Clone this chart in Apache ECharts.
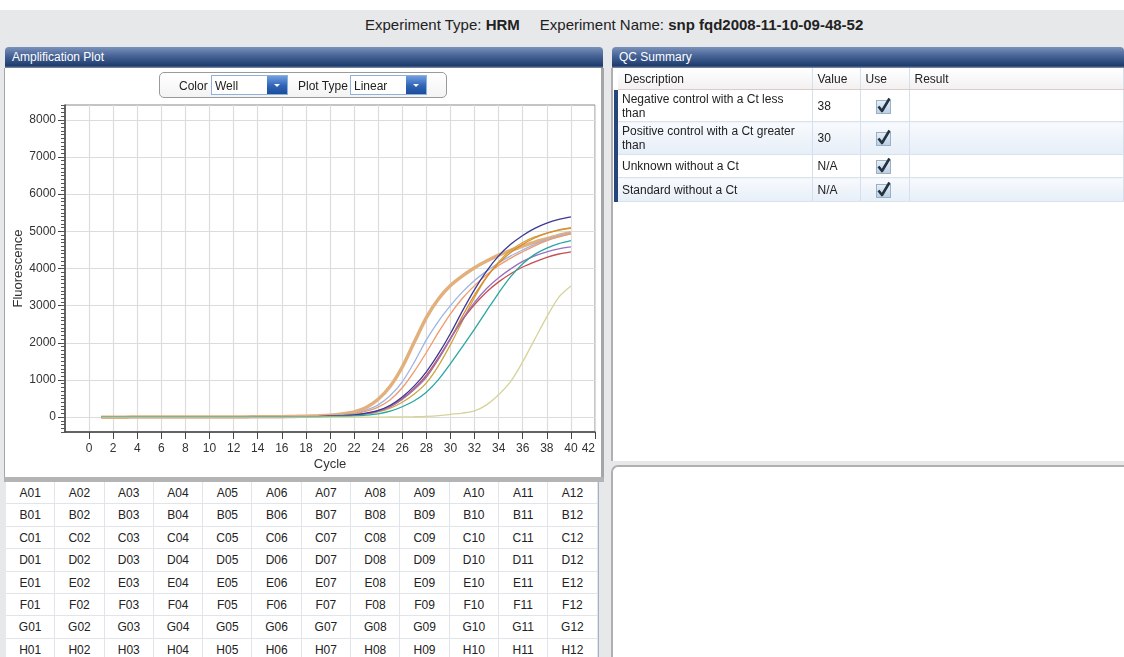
<!DOCTYPE html>
<html>
<head>
<meta charset="utf-8">
<script src="https://cdn.jsdelivr.net/npm/echarts@6/dist/echarts.min.js"></script>
<style>
body { margin: 0; width: 1124px; height: 657px; overflow: hidden; position: relative;
  background: #e7e8ea; font-family: 'Liberation Sans', Arial, sans-serif; color: #222; }
.topwhite { position: absolute; left: 0; top: 0; width: 1124px; height: 10px; background: #fff; }
.header { position: absolute; left: 365px; top: 16px; font-size: 15px; white-space: nowrap; }
.header b { margin-right: 20px; }
.titlebar { position: absolute; height: 21px; line-height: 21px; color: #fff; font-size: 12px; padding-left: 7px;
  box-sizing: border-box; border-radius: 4px 4px 0 0;
  background: linear-gradient(#7a91ba, #4a6698 40%, #1d3b6d 90%, #8c98ad); }
.body { position: absolute; background: #fff; box-sizing: border-box; }
.toolbar { position: absolute; left: 159px; top: 72px; width: 288px; height: 26px; box-sizing: border-box;
  border: 1px solid #9a9a9a; border-radius: 5px; background: linear-gradient(#fff, #f3f3f3); font-size: 12px; }
.toolbar .lbl { position: absolute; top: 6px; }
.combo { position: absolute; top: 2px; height: 20px; box-sizing: border-box; border: 1px solid #8fb1da; background: #fff; }
.combo span { position: absolute; left: 3px; top: 3px; }
.combo i { position: absolute; right: 0; top: 0; width: 20px; height: 18px;
  background: linear-gradient(#6f9ee0, #2f63b5 55%, #1b4d9c); }
.combo i:after { content: ''; position: absolute; left: 7px; top: 8px; border-left: 3px solid transparent;
  border-right: 3px solid transparent; border-top: 3px solid #fff; }
#plot { position: absolute; left: 5px; top: 68px; width: 597px; height: 408px; }
.wells { position: absolute; left: 6px; top: 482px; display: grid; background: #fff;
  grid-template-columns: repeat(12, 49.3px); grid-auto-rows: 22.4px; border-right: 1px solid #9fb3c8; }
.wells div { border-right: 1px solid #e1e4e8; border-bottom: 1px solid #e1e4e8; font-size: 12px;
  text-align: center; line-height: 22px; }
table.qc { position: absolute; left: 614px; top: 68px; width: 510px; border-collapse: collapse; font-size: 12px; table-layout: fixed; }
table.qc td { padding: 0 0 0 5px; border-right: 1px solid #d6e0ec; border-bottom: 1px solid #d9e3ee; vertical-align: middle; overflow: hidden; }
table.qc tr.hd td { height: 21px; background: linear-gradient(#fff, #f1f1f1); border-bottom: 1px solid #e2c9c9; }
table.qc tr.alt td { background: linear-gradient(#f8fafd, #e6eef8); }
table.qc td.d { border-left: 4px solid #25457b; padding-left: 4px; line-height: 14px; }
table.qc tr.hd td.d { border-left: 4px solid #fff; padding-left: 6px; }
</style>
</head>
<body>
<div class="topwhite"></div>
<div class="header">Experiment Type: <b>HRM</b>Experiment Name: <b>snp fqd2008-11-10-09-48-52</b></div>

<!-- left panel -->
<div class="titlebar" style="left:5px;top:47px;width:598px;">Amplification Plot</div>
<div class="body" style="left:4px;top:68px;width:600px;height:409px;border-left:1px solid #a6a6a6;border-right:3px solid #a6a6a6;"></div>
<div id="plot"></div>
<div class="toolbar">
  <div class="lbl" style="left:19px;">Color</div>
  <div class="combo" style="left:51px;width:77px;"><span>Well</span><i></i></div>
  <div class="lbl" style="left:138px;">Plot Type</div>
  <div class="combo" style="left:190px;width:77px;"><span>Linear</span><i></i></div>
</div>
<div class="body" style="left:4px;top:477px;width:600px;height:5px;background:#b4b4b4;"></div>
<div class="wells" id="wells"></div>

<!-- right panel -->
<div class="titlebar" style="left:612px;top:47px;width:512px;">QC Summary</div>
<div class="body" style="left:611px;top:68px;width:513px;height:393px;border-left:2px solid #b0b0b0;"></div>
<table class="qc">
  <colgroup><col style="width:196px"><col style="width:48px"><col style="width:49px"><col></colgroup>
  <tr class="hd"><td class="d">Description</td><td>Value</td><td>Use</td><td>Result</td></tr>
  <tr style="height:32px;"><td class="d">Negative control with a Ct less<br>than</td><td>38</td><td class="chk"></td><td></td></tr>
  <tr class="alt" style="height:33px;"><td class="d">Positive control with a Ct greater<br>than</td><td>30</td><td class="chk"></td><td></td></tr>
  <tr style="height:23px;"><td class="d">Unknown without a Ct</td><td>N/A</td><td class="chk"></td><td></td></tr>
  <tr class="alt" style="height:24px;"><td class="d">Standard without a Ct</td><td>N/A</td><td class="chk"></td><td></td></tr>
</table>
<div class="body" style="left:611px;top:465px;width:513px;height:192px;border-left:2px solid #b0b0b0;border-top:2px solid #b0b0b0;border-radius:7px 0 0 0;"></div>

<script>
// cycles and fluorescence per well
const cycles = [1,2,3,4,5,6,7,8,9,10,11,12,13,14,15,16,17,18,19,20,
  21,22,23,24,25,26,27,28,29,30,31,32,33,34,35,36,37,38,39,40];

const tanWell = [0,0,0,1,1,2,2,3,3,4, 5,6,7,8,10, 12,17,25,35,50,
  85,140,260,480,830, 1350,2020,2680,3180,3540, 3800,4020,4200,4360,4490, 4600,4710,4800,4890,4960];
const lightBlueWell = [0,0,0,0,1,1,1,2,2,3, 3,4,5,6,7, 8,11,15,22,35,
  60,100,190,330,580, 950,1480,2080,2580,3000, 3370,3680,3930,4150,4340, 4500,4650,4780,4880,4950];
const salmonWell = [0,0,0,0,0,1,1,1,2,2, 3,3,4,5,6, 7,10,14,20,30,
  52,90,160,270,470, 790,1230,1740,2280,2780, 3200,3540,3830,4080,4280, 4450,4610,4750,4850,4930];
const navyWell = [0,0,0,0,0,0,0,1,1,1, 1,2,2,3,3, 4,6,10,16,25,
  38,60,105,180,320, 540,840,1220,1700,2250, 2860,3430,3930,4340,4650, 4890,5080,5220,5320,5390];
const redWell = [0,0,0,0,0,0,0,1,1,1, 1,2,2,3,3, 4,6,10,16,25,
  38,60,100,170,300, 500,780,1130,1600,2120, 2620,3030,3370,3640,3860, 4040,4180,4300,4390,4450];
const purpleWell = [0,0,0,0,0,0,0,1,1,1, 1,2,2,3,3, 4,6,10,15,25,
  36,55,95,160,280, 480,750,1080,1560,2100, 2640,3090,3460,3750,3990, 4190,4340,4450,4530,4580];
const goldWell = [0,0,0,0,0,0,0,0,0,1, 1,1,1,2,2, 2,3,5,10,20,
  30,45,80,140,240, 400,620,920,1380,1950, 2590,3220,3760,4180,4490, 4700,4850,4950,5030,5080];
const orangeWell = [0,0,0,0,0,0,0,1,1,1, 1,2,2,3,3, 4,6,10,15,25,
  36,55,95,160,280, 480,750,1080,1560,2110, 2720,3290,3770,4140,4430, 4650,4820,4950,5040,5100];
const tealWell = [0,0,0,0,0,0,0,0,0,1, 1,1,1,1,2, 2,3,5,9,15,
  24,35,55,90,160, 280,440,670,1010,1440, 1900,2370,2860,3340,3780, 4130,4380,4550,4670,4750];
const khakiWell = [0,0,0,0,0,0,0,0,0,0, 0,0,0,0,0, 0,0,0,0,0,
  0,1,1,2,3, 5,10,20,40,75, 110,170,330,600,960, 1490,2100,2700,3230,3530];

const xTicks = [0,2,4,6,8,10,12,14,16,18,20,22,24,26,28,30,32,34,36,38,40,42];
const yTicks = [0,1000,2000,3000,4000,5000,6000,7000,8000];

const wellRows = ['A','B','C','D','E','F','G','H'];
const wellCols = ['01','02','03','04','05','06','07','08','09','10','11','12'];

// well grid below the plot
const wells = document.getElementById('wells');
wellRows.forEach(r => wellCols.forEach(c => {
  const d = document.createElement('div');
  d.textContent = r + c;
  wells.appendChild(d);
}));

// check boxes in the QC table
const checkSvg = '<svg width="20" height="18" viewBox="0 0 20 18" style="display:block;margin:0 auto">' +
  '<defs><linearGradient id="g" x1="0" y1="0" x2="0" y2="1"><stop offset="0" stop-color="#e6f0f8"/><stop offset="1" stop-color="#b9cfe3"/></linearGradient></defs>' +
  '<rect x="3.5" y="3.5" width="14" height="13" fill="url(#g)" stroke="#9bb0c4"/>' +
  '<path d="M5.5 9.5 L9 14 L16.5 1.5" fill="none" stroke="#24333f" stroke-width="2.6" stroke-linejoin="round"/></svg>';
document.querySelectorAll('td.chk').forEach(td => { td.innerHTML = checkSvg; td.style.padding = '0 4px 0 0'; });

const wellLines = [
  { data: tanWell, color: '#e1b07c', width: 3.5 },
  { data: lightBlueWell, color: '#9db5e4', width: 1.3 },
  { data: salmonWell, color: '#ee9a6a', width: 1.3 },
  { data: goldWell, color: '#cfa443', width: 1.3 },
  { data: orangeWell, color: '#d98b2e', width: 1.3 },
  { data: redWell, color: '#c4504f', width: 1.3 },
  { data: purpleWell, color: '#9a70c0', width: 1.3 },
  { data: navyWell, color: '#3c3a95', width: 1.3 },
  { data: tealWell, color: '#2aa6a0', width: 1.3 },
  { data: khakiWell, color: '#d6d39a', width: 1.3 }
];

const chart = echarts.init(document.getElementById('plot'));
chart.setOption({
  animation: false,
  grid: { left: 60, right: 7, top: 37, bottom: 44, show: true, borderColor: '#888', borderWidth: 1,
    backgroundColor: '#fff', containLabel: false, outerBoundsMode: 'none' },
  xAxis: {
    type: 'value', min: -2, max: 42, interval: 2,
    name: 'Cycle', nameLocation: 'middle', nameGap: 26, nameMoveOverlap: false,
    nameTextStyle: { fontSize: 13, color: '#333', fontFamily: 'Liberation Sans' },
    axisLine: { onZero: false, lineStyle: { color: '#444', width: 1.5 } },
    axisTick: { customValues: xTicks, length: 7, lineStyle: { color: '#444' } },
    axisLabel: { customValues: xTicks, color: '#333', fontSize: 12, margin: 11, fontFamily: 'Liberation Sans', alignMaxLabel: 'right' },
    splitLine: { show: true, lineStyle: { color: '#dcdcdc', width: 1.2 } }
  },
  yAxis: [
    {
      type: 'value', min: -400, max: 8400, interval: 100,
      name: 'Fluorescence', nameLocation: 'middle', nameGap: 40, nameMoveOverlap: false,
      nameTextStyle: { fontSize: 13, color: '#333', fontFamily: 'Liberation Sans' },
      axisLine: { onZero: false, lineStyle: { color: '#444', width: 1.5 } },
      axisTick: { customValues: yTicks, length: 7, lineStyle: { color: '#444' } },
      axisLabel: { customValues: yTicks, color: '#333', fontSize: 12, margin: 9, fontFamily: 'Liberation Sans',
        formatter: v => String(v) },
      splitLine: { show: true, lineStyle: { color: '#dcdcdc', width: 1.2 } }
    },
    {
      type: 'value', min: -400, max: 8400, interval: 100, position: 'left',
      axisLine: { show: false, onZero: false },
      axisTick: { show: true, length: 4, lineStyle: { color: '#555' } },
      axisLabel: { show: false },
      splitLine: { show: false }
    }
  ],
  series: wellLines.map(w => ({
    type: 'line',
    showSymbol: false,
    smooth: 0.3,
    lineStyle: { color: w.color, width: w.width },
    data: cycles.map((c, i) => [c, w.data[i]])
  }))
});
</script>
</body>
</html>
